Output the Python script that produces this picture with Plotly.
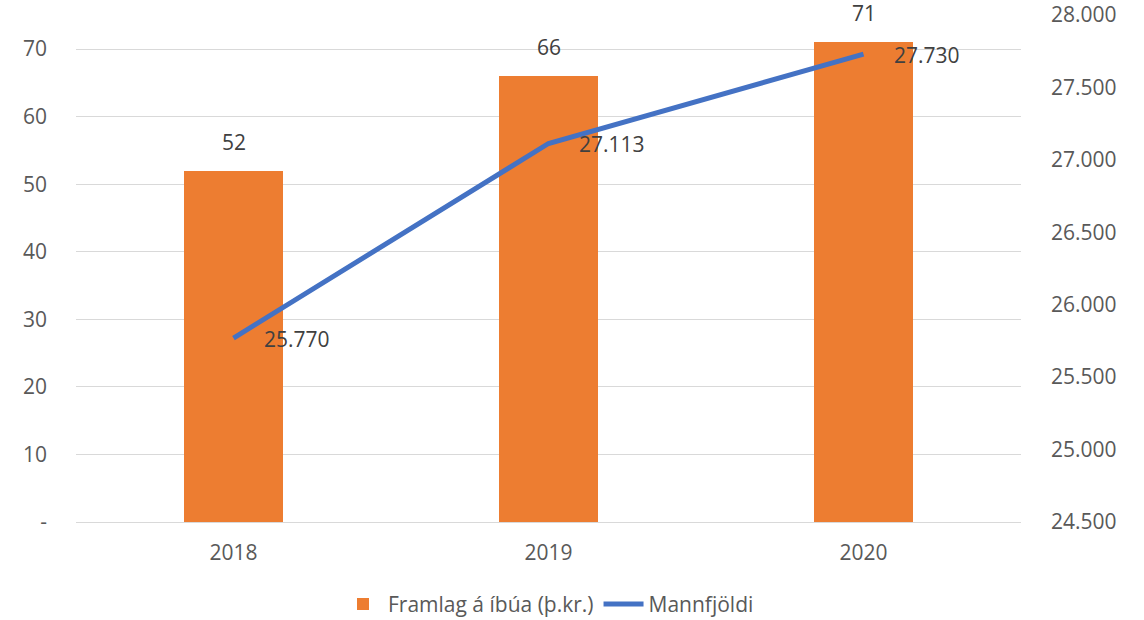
import plotly.graph_objects as go

years = ["2018", "2019", "2020"]
framlag = [52, 66, 71]
mannfjoldi = [25770, 27113, 27730]
left_ticks = [0, 10, 20, 30, 40, 50, 60, 70]
left_ticktext = ["-", "10", "20", "30", "40", "50", "60", "70"]
right_ticks = [24500, 25000, 25500, 26000, 26500, 27000, 27500, 28000]

FONT = "Open Sans, Liberation Sans, sans-serif"
FS = 21

def fmt(v):
    return f"{v:,}".replace(",", ".")

fig = go.Figure()
fig.add_trace(go.Bar(
    x=years, y=framlag, name="Framlag á íbúa (þ.kr.)",
    marker=dict(color="#ED7D31", line=dict(width=0)), width=0.314,
    yaxis="y",
))
fig.add_trace(go.Scatter(
    x=years, y=mannfjoldi, name="Mannfjöldi", mode="lines",
    line=dict(color="#4472C4", width=5), yaxis="y2",
))

annotations = []
# category axis: annotation positions use the category index
for i, v in enumerate(framlag):
    annotations.append(dict(x=i, y=v, xref="x", yref="y", text=str(v),
                            showarrow=False, yanchor="bottom", yshift=13,
                            font=dict(size=FS, color="#404040", family=FONT)))
for i, v in enumerate(mannfjoldi):
    annotations.append(dict(x=i, y=v, xref="x", yref="y2", text=fmt(v),
                            showarrow=False, xanchor="left", yanchor="middle",
                            xshift=28, yshift=-1,
                            font=dict(size=FS, color="#404040", family=FONT)))

fig.update_layout(
    width=1144, height=620,
    margin=dict(l=76, r=123, t=15, b=98, autoexpand=False),
    paper_bgcolor="white", plot_bgcolor="white",
    font=dict(family=FONT, size=FS, color="#595959"),
    showlegend=True,
    legend=dict(orientation="h", x=0.5, xanchor="center", y=-0.122, yanchor="top",
                font=dict(size=FS, color="#595959"), itemwidth=40),
    xaxis=dict(type="category", range=[-0.5, 2.5], showgrid=False, showline=False, ticks="",
               automargin=False,
               tickfont=dict(size=FS, color="#595959"), ticklabelstandoff=16),
    yaxis=dict(range=[0, 75.05], tickvals=left_ticks, ticktext=left_ticktext,
               showgrid=True, gridcolor="#D9D9D9", gridwidth=1, zeroline=True,
               zerolinecolor="#D9D9D9", zerolinewidth=1, showline=False, ticks="",
               automargin=False,
               ticklabelstandoff=28, tickfont=dict(size=FS, color="#595959")),
    yaxis2=dict(range=[24500, 28000], tickvals=right_ticks,
                ticktext=[fmt(v) for v in right_ticks],
                overlaying="y", side="right", showgrid=False, zeroline=False,
                showline=False, ticks="", ticklabelstandoff=29, automargin=False,
                tickfont=dict(size=FS, color="#595959")),
    annotations=annotations,
    bargap=0,
)

fig.write_html("out.html", config={"displayModeBar": False},
               post_script="document.body.style.margin='0';document.body.style.overflow='hidden';")
